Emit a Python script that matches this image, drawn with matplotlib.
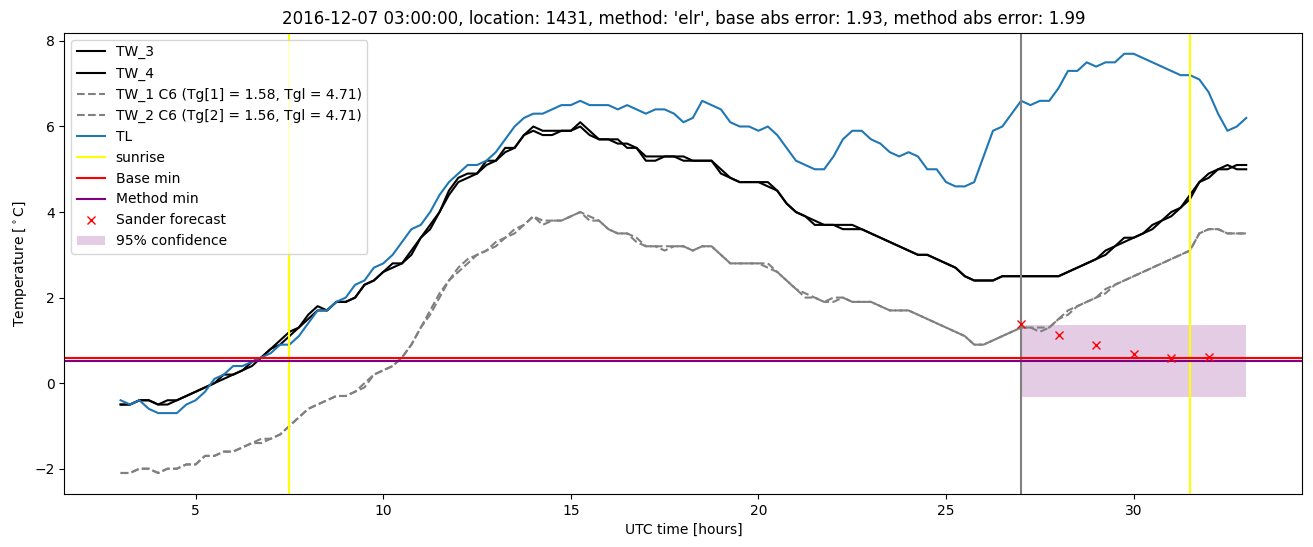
import numpy as np
import matplotlib.pyplot as plt

# ====================================
# DATA (15 min steps from 03:00)
# ====================================

hours = np.arange(3, 33.001, 0.25)

tw3 = [
    -0.5, -0.5, -0.4, -0.4, -0.5, -0.5, -0.4, -0.3,
    -0.2, -0.1, 0.0, 0.1, 0.2, 0.3, 0.5, 0.6,
    0.8, 1.0, 1.2, 1.3, 1.6, 1.8, 1.7, 1.9,
    1.9, 2.0, 2.3, 2.4, 2.6, 2.8, 2.8, 3.1,
    3.4, 3.7, 4.0, 4.5, 4.8, 4.9, 4.9, 5.2,
    5.2, 5.5, 5.5, 5.8, 6.0, 5.9, 5.9, 5.9,
    5.9, 6.1, 5.9, 5.7, 5.7, 5.6, 5.6, 5.5,
    5.3, 5.3, 5.3, 5.3, 5.3, 5.2, 5.2, 5.2,
    5.0, 4.8, 4.7, 4.7, 4.7, 4.7, 4.5, 4.2,
    4.0, 3.9, 3.8, 3.7, 3.7, 3.7, 3.7, 3.6,
    3.5, 3.4, 3.3, 3.2, 3.1, 3.0, 3.0, 2.9,
    2.8, 2.7, 2.5, 2.4, 2.4, 2.4, 2.5, 2.5,
    2.5, 2.5, 2.5, 2.5, 2.5, 2.6, 2.7, 2.8,
    2.9, 3.1, 3.2, 3.4, 3.4, 3.5, 3.7, 3.8,
    4.0, 4.1, 4.4, 4.7, 4.9, 5.0, 5.0, 5.1,
    5.1,
]

tw4 = [
    -0.5, -0.5, -0.4, -0.4, -0.5, -0.4, -0.4, -0.3,
    -0.2, -0.1, 0.0, 0.2, 0.2, 0.3, 0.4, 0.6,
    0.8, 0.9, 1.1, 1.3, 1.5, 1.7, 1.7, 1.9,
    1.9, 2.0, 2.3, 2.4, 2.6, 2.7, 2.8, 3.0,
    3.4, 3.6, 4.0, 4.4, 4.7, 4.8, 4.9, 5.1,
    5.2, 5.4, 5.5, 5.8, 5.9, 5.8, 5.8, 5.9,
    5.9, 6.0, 5.8, 5.7, 5.7, 5.7, 5.5, 5.5,
    5.2, 5.2, 5.3, 5.3, 5.2, 5.2, 5.2, 5.2,
    4.9, 4.8, 4.7, 4.7, 4.7, 4.6, 4.5, 4.2,
    4.0, 3.9, 3.7, 3.7, 3.7, 3.6, 3.6, 3.6,
    3.5, 3.4, 3.3, 3.2, 3.1, 3.0, 3.0, 2.9,
    2.8, 2.7, 2.5, 2.4, 2.4, 2.4, 2.5, 2.5,
    2.5, 2.5, 2.5, 2.5, 2.5, 2.6, 2.7, 2.8,
    2.9, 3.0, 3.2, 3.3, 3.4, 3.5, 3.6, 3.8,
    3.9, 4.1, 4.3, 4.7, 4.8, 5.0, 5.1, 5.0,
    5.0,
]

tw1 = [
    -2.1, -2.1, -2.0, -2.0, -2.1, -2.0, -2.0, -1.9,
    -1.9, -1.7, -1.7, -1.6, -1.6, -1.5, -1.4, -1.4,
    -1.3, -1.2, -1.0, -0.8, -0.6, -0.5, -0.4, -0.3,
    -0.3, -0.2, -0.1, 0.2, 0.3, 0.4, 0.6, 0.9,
    1.3, 1.6, 2.0, 2.4, 2.6, 2.8, 3.0, 3.1,
    3.2, 3.4, 3.5, 3.7, 3.9, 3.8, 3.8, 3.8,
    3.9, 4.0, 3.9, 3.8, 3.6, 3.5, 3.5, 3.4,
    3.2, 3.2, 3.2, 3.2, 3.2, 3.1, 3.2, 3.2,
    3.0, 2.8, 2.8, 2.8, 2.8, 2.8, 2.6, 2.4,
    2.2, 2.1, 2.0, 1.9, 1.9, 2.0, 1.9, 1.9,
    1.9, 1.8, 1.7, 1.7, 1.7, 1.6, 1.5, 1.4,
    1.3, 1.2, 1.1, 0.9, 0.9, 1.0, 1.1, 1.2,
    1.3, 1.3, 1.3, 1.3, 1.5, 1.6, 1.8, 1.9,
    2.0, 2.1, 2.3, 2.4, 2.5, 2.6, 2.7, 2.8,
    2.9, 3.0, 3.1, 3.5, 3.6, 3.6, 3.5, 3.5,
    3.5,
]

tw2 = [
    -2.1, -2.1, -2.0, -2.0, -2.1, -2.0, -2.0, -1.9,
    -1.9, -1.7, -1.7, -1.6, -1.6, -1.5, -1.4, -1.3,
    -1.3, -1.2, -1.0, -0.8, -0.6, -0.5, -0.4, -0.3,
    -0.3, -0.2, 0.0, 0.2, 0.3, 0.4, 0.6, 0.9,
    1.3, 1.7, 2.1, 2.4, 2.7, 2.9, 3.0, 3.1,
    3.3, 3.4, 3.6, 3.7, 3.9, 3.7, 3.8, 3.8,
    3.9, 4.0, 3.8, 3.8, 3.6, 3.5, 3.5, 3.3,
    3.2, 3.2, 3.1, 3.2, 3.2, 3.1, 3.2, 3.2,
    3.0, 2.8, 2.8, 2.8, 2.8, 2.7, 2.6, 2.4,
    2.2, 2.0, 2.0, 1.9, 2.0, 2.0, 1.9, 1.9,
    1.9, 1.8, 1.7, 1.7, 1.7, 1.6, 1.5, 1.4,
    1.3, 1.2, 1.1, 0.9, 0.9, 1.0, 1.1, 1.2,
    1.3, 1.3, 1.2, 1.3, 1.5, 1.7, 1.8, 1.9,
    2.0, 2.2, 2.3, 2.4, 2.5, 2.6, 2.7, 2.8,
    2.9, 3.0, 3.1, 3.5, 3.6, 3.6, 3.5, 3.5,
    3.5,
]

tl = [
    -0.4, -0.5, -0.4, -0.6, -0.7, -0.7, -0.7, -0.5,
    -0.4, -0.2, 0.1, 0.2, 0.4, 0.4, 0.5, 0.6,
    0.7, 0.9, 0.9, 1.1, 1.4, 1.7, 1.7, 1.9,
    2.0, 2.3, 2.4, 2.7, 2.8, 3.0, 3.3, 3.6,
    3.7, 4.0, 4.4, 4.7, 4.9, 5.1, 5.1, 5.2,
    5.4, 5.7, 6.0, 6.2, 6.3, 6.3, 6.4, 6.5,
    6.5, 6.6, 6.5, 6.5, 6.5, 6.4, 6.5, 6.4,
    6.3, 6.4, 6.4, 6.3, 6.1, 6.2, 6.6, 6.5,
    6.4, 6.1, 6.0, 6.0, 5.9, 6.0, 5.8, 5.5,
    5.2, 5.1, 5.0, 5.0, 5.3, 5.7, 5.9, 5.9,
    5.7, 5.6, 5.4, 5.3, 5.4, 5.3, 5.0, 5.0,
    4.7, 4.6, 4.6, 4.7, 5.3, 5.9, 6.0, 6.3,
    6.6, 6.5, 6.6, 6.6, 6.9, 7.3, 7.3, 7.5,
    7.4, 7.5, 7.5, 7.7, 7.7, 7.6, 7.5, 7.4,
    7.3, 7.2, 7.2, 7.1, 6.8, 6.3, 5.9, 6.0,
    6.2,
]

sunrise_hours = [7.5, 31.5]
forecast_start = 27
base_min = 0.58
method_min = 0.51

sander_hours = [27, 28, 29, 30, 31, 32]
sander_temp = [1.39, 1.12, 0.89, 0.69, 0.58, 0.61]

conf_hours = [27, 33]
conf_low = -0.33
conf_high = 1.35

tg1, tg2, tgl = 1.58, 1.56, 4.71

# ====================================
# PLOT
# ====================================

fig, ax = plt.subplots(figsize=(13.13, 5.47), dpi=100)
fig.subplots_adjust(left=0.049, right=0.992, top=0.940, bottom=0.097)

ax.plot(hours, tw3, color='black', label='TW_3')
ax.plot(hours, tw4, color='black', label='TW_4')
ax.plot(hours, tw1, color='gray', linestyle='--',
        label=f'TW_1 C6 (Tg[1] = {tg1}, Tgl = {tgl})')
ax.plot(hours, tw2, color='gray', linestyle='--',
        label=f'TW_2 C6 (Tg[2] = {tg2}, Tgl = {tgl})')
ax.plot(hours, tl, color='tab:blue', label='TL')

for i, h in enumerate(sunrise_hours):
    ax.axvline(h, color='yellow', label='sunrise' if i == 0 else None)
ax.axvline(forecast_start, color='gray')

ax.axhline(base_min, color='red', label='Base min')
ax.axhline(method_min, color='purple', label='Method min')

ax.plot(sander_hours, sander_temp, 'rx', label='Sander forecast')
ax.fill_between(conf_hours, conf_low, conf_high, color='purple',
                alpha=0.2, linewidth=0, label='95% confidence')

ax.set_title("2016-12-07 03:00:00, location: 1431, method: 'elr', "
             "base abs error: 1.93, method abs error: 1.99")
ax.set_xlabel('UTC time [hours]')
ax.set_ylabel(r'Temperature [$^\circ$C]')
ax.legend(loc='upper left')

plt.savefig('out.png')
